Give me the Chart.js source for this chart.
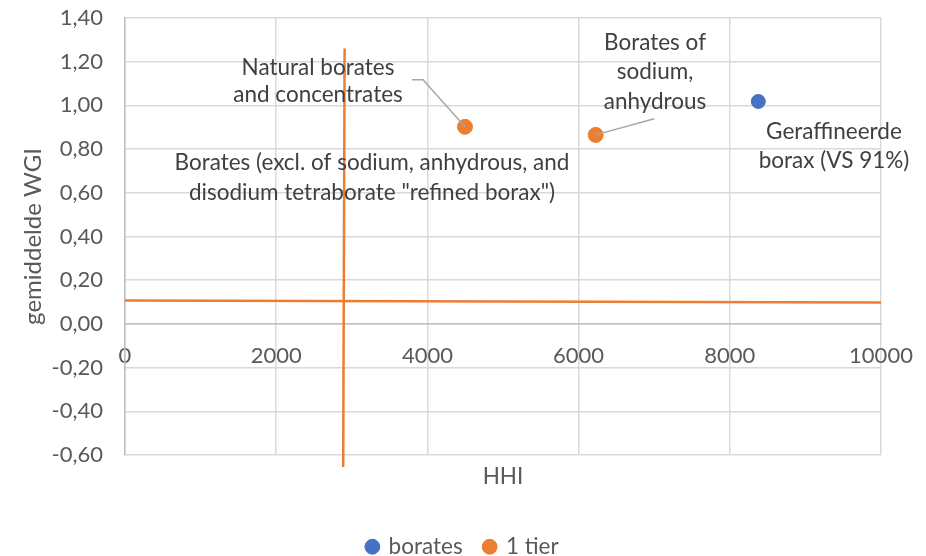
<!DOCTYPE html>
<html><head><meta charset="utf-8">
<script src="https://cdn.jsdelivr.net/npm/chart.js@4.4.1/dist/chart.umd.min.js"></script>
<style>html,body{margin:0;padding:0;background:#fff}#wrap{width:926px;height:556px;position:relative}</style>
</head><body><div id="wrap"><canvas id="c"></canvas></div>
<script>
// ---- data ----
const seriesNames = ['borates', '1 tier'];
const boratesHHI = [8377];
const boratesWGI = [1.018];
const tierHHI = [4497, 6226];
const tierWGI = [0.902, 0.865];
const boratesLabels = ['Geraffineerde\nborax (VS 91%)'];
const tierLabels = ['Natural borates\nand concentrates', 'Borates of\nsodium,\nanhydrous'];
const freeLabel = 'Borates (excl. of sodium, anhydrous, and\ndisodium tetraborate "refined borax")';
const vLineHHI = [2886, 2905];
const vLineWGI = [-0.655, 1.26];
const hLineHHI = [0, 10000];
const hLineWGI = [0.107, 0.098];
const xTicks = [0, 2000, 4000, 6000, 8000, 10000];
const yTicks = [-0.6, -0.4, -0.2, 0, 0.2, 0.4, 0.6, 0.8, 1.0, 1.2, 1.4];
const xTitle = 'HHI';
const yTitle = 'gemiddelde WGI';

// ---- styles ----
const BLUE = '#4472c4', ORANGE = '#ed7d31', GRID = '#d9d9d9', AXIS = '#bfbfbf', TXT = '#595959', LBL = '#404040';
Chart.defaults.font.family = 'Lato';
Chart.defaults.font.size = 22;
Chart.defaults.color = TXT;

const toXY = (xs, ys) => xs.map((x, i) => ({x: x, y: ys[i]}));

// label placement (data units), leader lines
const labelPlacement = [
  {text: boratesLabels[0], x: 9378, y: [0.879, 0.746]},
  {text: tierLabels[0], x: 2553, y: [1.172, 1.047], leader: [[3796, 1.117], [3942, 1.117], [tierHHI[0], tierWGI[0]]]},
  {text: tierLabels[1], x: 7011, y: [1.287, 1.154, 1.016], leader: [[7000, 0.939], [tierHHI[1], tierWGI[1]]]},
  {text: freeLabel, x: 3267, y: [0.737, 0.600]}
];

const labelPlugin = {
  id: 'pointNotes',
  afterDatasetsDraw(chart) {
    const {ctx, scales: {x, y}} = chart;
    ctx.save();
    ctx.strokeStyle = '#a6a6a6';
    ctx.lineWidth = 1.5;
    labelPlacement.forEach(l => {
      if (!l.leader) return;
      ctx.beginPath();
      l.leader.forEach((p, i) => {
        const px = x.getPixelForValue(p[0]), py = y.getPixelForValue(p[1]);
        if (i === 0) ctx.moveTo(px, py); else ctx.lineTo(px, py);
      });
      ctx.stroke();
    });
    ctx.fillStyle = LBL;
    ctx.font = '22.5px Lato';
    ctx.textAlign = 'center';
    ctx.textBaseline = 'middle';
    labelPlacement.forEach(l => {
      const lines = l.text.split('\n');
      lines.forEach((t, i) => ctx.fillText(t, x.getPixelForValue(l.x), y.getPixelForValue(l.y[i])));
    });
    ctx.restore();
  }
};

new Chart(document.getElementById('c'), {
  type: 'scatter',
  data: {
    datasets: [
      {label: seriesNames[0], data: toXY(boratesHHI, boratesWGI), backgroundColor: BLUE, borderColor: BLUE, pointRadius: 7, pointHoverRadius: 7, order: 1},
      {label: seriesNames[1], data: toXY(tierHHI, tierWGI), backgroundColor: ORANGE, borderColor: ORANGE, pointRadius: 7.5, pointHoverRadius: 7.5, order: 1},
      {label: 'vline', data: toXY(vLineHHI, vLineWGI), showLine: true, borderColor: ORANGE, borderWidth: 2.5, pointRadius: 0, clip: false, order: 2},
      {label: 'hline', data: toXY(hLineHHI, hLineWGI), showLine: true, borderColor: ORANGE, borderWidth: 2.5, pointRadius: 0, clip: false, order: 2}
    ]
  },
  options: {
    responsive: true,
    maintainAspectRatio: false,
    animation: false,
    layout: {padding: {top: 18, right: 45, left: 45, bottom: -12}},
    plugins: {
      legend: {
        position: 'bottom',
        labels: {
          usePointStyle: true, pointStyle: 'circle', boxWidth: 10, boxHeight: 10.5, padding: 22, color: TXT,
          font: {size: 22.5},
          filter: item => seriesNames.includes(item.text)
        }
      },
      tooltip: {enabled: false}
    },
    scales: {
      x: {
        type: 'linear', position: {y: 0}, min: 0, max: 10000,
        afterBuildTicks: s => { s.ticks = xTicks.map(v => ({value: v})); },
        afterFit: s => { s.paddingLeft = 0; s.paddingRight = 0; s.paddingTop = 0; s.paddingBottom = 0; },
        ticks: {padding: 19, color: TXT, maxRotation: 0, font: {size: 22}, callback: v => String(v)},
        grid: {color: GRID, lineWidth: 1.5, drawTicks: false},
        border: {color: AXIS, width: 1.5}
      },
      x2: {
        type: 'linear', position: 'bottom', min: 0, max: 10000,
        afterFit: s => { s.paddingLeft = 0; s.paddingRight = 0; },
        ticks: {display: false},
        grid: {display: false, drawTicks: false},
        border: {display: false},
        title: {display: true, text: xTitle, color: TXT, font: {size: 22.5}, padding: {top: 8.5, bottom: 23}}
      },
      y: {
        type: 'linear', min: -0.6, max: 1.4,
        afterBuildTicks: s => { s.ticks = yTicks.map(v => ({value: v})); },
        afterFit: s => { s.width = 80; s.paddingTop = 0; s.paddingBottom = 0; },
        ticks: {padding: 22, color: TXT, font: {size: 22}, callback: v => (Math.abs(v) < 1e-9 ? 0 : v).toFixed(2).replace('.', ',')},
        grid: {color: GRID, lineWidth: 1.5, drawTicks: false},
        border: {color: AXIS, width: 1.5},
        title: {display: true, text: yTitle, color: TXT, font: {size: 24}, padding: {top: -26.4, bottom: 0}}
      }
    }
  },
  plugins: [labelPlugin]
});
</script>
</body></html>
